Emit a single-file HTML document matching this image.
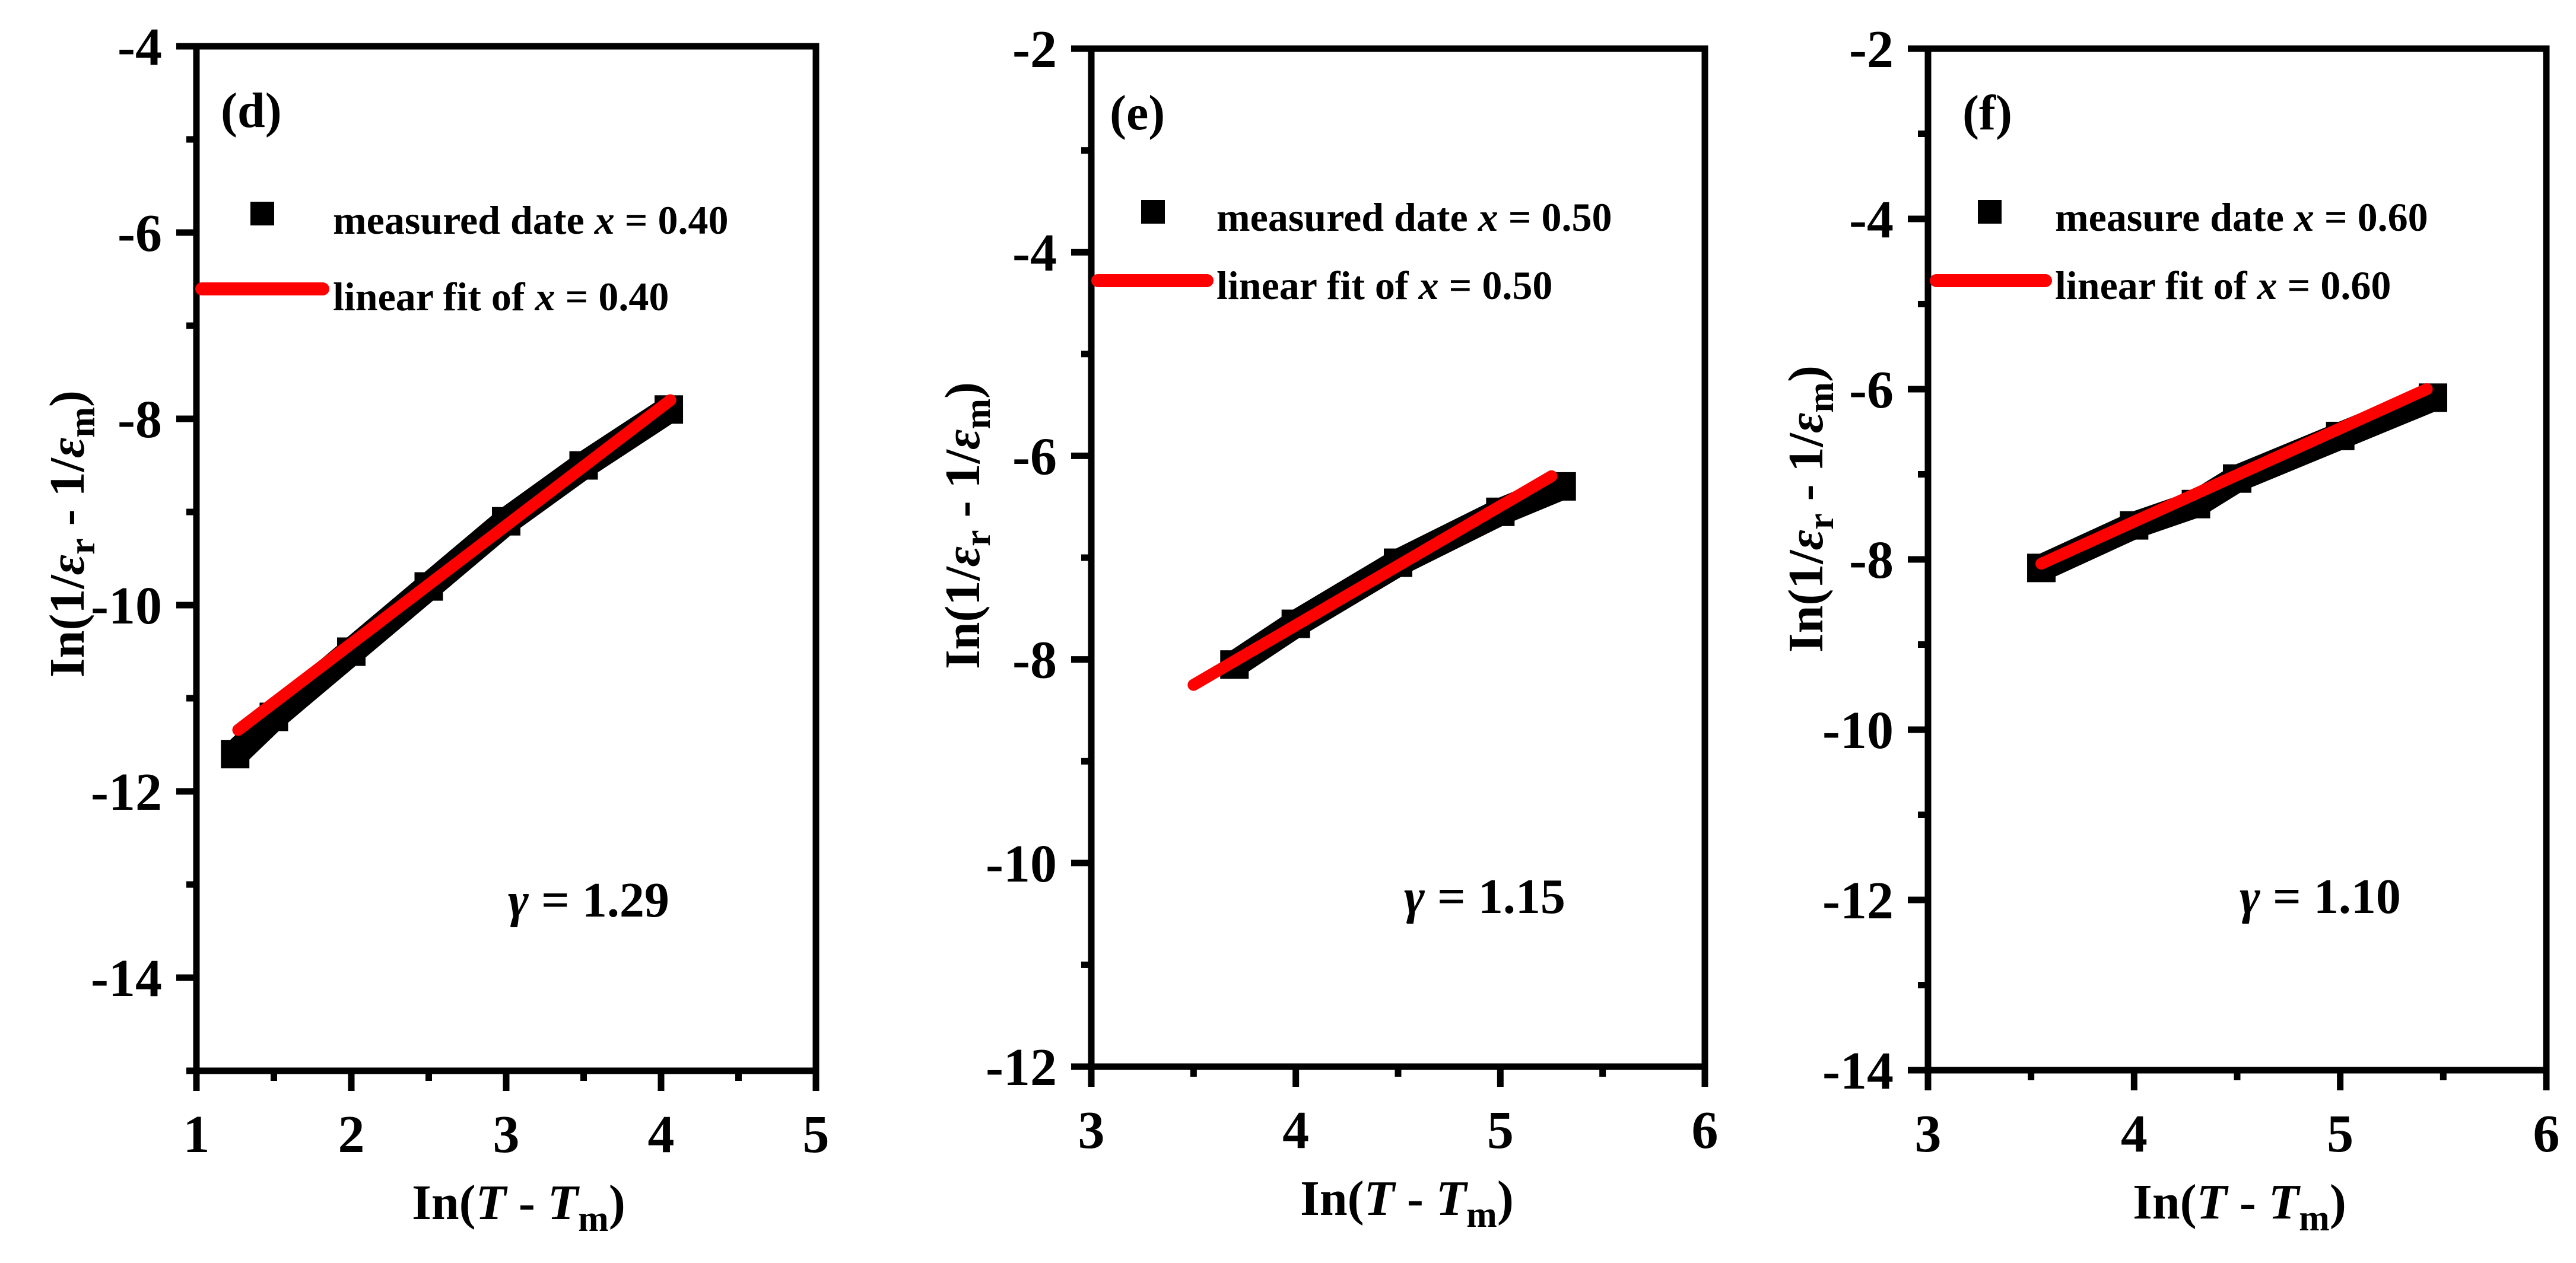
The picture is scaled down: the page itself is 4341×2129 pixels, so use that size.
<!DOCTYPE html>
<html><head><meta charset="utf-8"><style>
html,body{margin:0;padding:0;background:#fff;}
svg{display:block;}
text{font-family:"Liberation Serif",serif;font-weight:bold;fill:#000;}
</style></head><body>
<svg id="chart" width="4341" height="2129" viewBox="0 0 4341 2129" xmlns="http://www.w3.org/2000/svg"></svg>
<script>
// Panel d data
const dMeasX = [1.25, 1.5, 2.0, 2.5, 3.0, 3.5, 4.05];
const dMeasY = [-11.6, -11.2, -10.5, -9.8, -9.1, -8.5, -7.9];
const dFitX = [1.27, 4.06];
const dFitY = [-11.34, -7.8];
const dYTicks = [-4, -6, -8, -10, -12, -14];
const dXTicks = [1, 2, 3, 4, 5];
// Panel e data
const eMeasX = [3.7, 4.0, 4.5, 5.0, 5.3];
const eMeasY = [-8.05, -7.65, -7.05, -6.55, -6.3];
const eFitX = [3.5, 5.25];
const eFitY = [-8.25, -6.2];
const eYTicks = [-2, -4, -6, -8, -10, -12];
const eXTicks = [3, 4, 5, 6];
// Panel f data
const fMeasX = [3.55, 4.0, 4.3, 4.5, 5.0, 5.45];
const fMeasY = [-8.1, -7.6, -7.35, -7.05, -6.55, -6.1];
const fFitX = [3.55, 5.42];
const fFitY = [-8.05, -6.0];
const fYTicks = [-2, -4, -6, -8, -10, -12, -14];
const fXTicks = [3, 4, 5, 6];
const gammaValues = ['1.29', '1.15', '1.10'];

const NS = "http://www.w3.org/2000/svg";
const svg = document.getElementById('chart');
function mk(tag, attrs, parent, txt){
  const e = document.createElementNS(NS, tag);
  for (const k in attrs) e.setAttribute(k, attrs[k]);
  if (txt !== undefined) e.textContent = txt;
  (parent || svg).appendChild(e);
  return e;
}
function fmt(v){ return v < 0 ? '-' + Math.abs(v) : String(v); }

const panels = [
  {id:'d', L:331, R:1375, T:78, B:1805, x0:1, x1:5, y0:-15, y1:-4, mx:dMeasX, my:dMeasY, fx:dFitX, fy:dFitY, yt:dYTicks, xt:dXTicks,
   leg1:'measured date ', val:'0.40', sq:[442,360], lt:561, b1:394, rl:[340,544], ry:487, b2:523, lab:[372,214], gam:[856,1545], yl:[111,900], xl:874, g:0},
  {id:'e', L:1839, R:2873, T:82, B:1798, x0:3, x1:6, y0:-12, y1:-2, mx:eMeasX, my:eMeasY, fx:eFitX, fy:eFitY, yt:eYTicks, xt:eXTicks,
   leg1:'measured date ', val:'0.50', sq:[1943,357], lt:2050, b1:389, rl:[1850,2034], ry:473, b2:504, lab:[1870,218], gam:[2366,1539], yl:[1620,886], xl:2371, g:1},
  {id:'f', L:3249, R:4291, T:82, B:1804, x0:3, x1:6, y0:-14, y1:-2, mx:fMeasX, my:fMeasY, fx:fFitX, fy:fFitY, yt:fYTicks, xt:fXTicks,
   leg1:'measure date ', val:'0.60', sq:[3353,357], lt:3463, b1:389, rl:[3263,3447], ry:473, b2:504, lab:[3307,218], gam:[3774,1539], yl:[3041,858], xl:3774, g:2}
];

panels.forEach(p => {
  const g = mk('g', {});
  
  
  const sx = v => p.L + (v - p.x0) / (p.x1 - p.x0) * (p.R - p.L);
  const sy = v => p.B - (v - p.y0) / (p.y1 - p.y0) * (p.B - p.T);

  let pts = p.mx.map((x,i) => sx(x) + ',' + sy(p.my[i])).join(' ');
  const band = mk('polyline', {points:pts, fill:'none', stroke:'#000', 'stroke-width':46, 'stroke-linejoin':'round'}, g);
  
  
  p.mx.forEach((x,i) => {
    const s = mk('rect', {x:sx(x)-24, y:sy(p.my[i])-24, width:48, height:48, fill:'#000'}, g);
    
    
  });
  const fit = mk('line', {x1:sx(p.fx[0]), y1:sy(p.fy[0]), x2:sx(p.fx[1]), y2:sy(p.fy[1]), stroke:'#ff0000', 'stroke-width':20, 'stroke-linecap':'round'}, g);
  
  

  const fr = mk('rect', {x:p.L, y:p.T, width:p.R-p.L, height:p.B-p.T, fill:'none', stroke:'#000', 'stroke-width':11}, g);
  
  

  for (let v = p.y0; v <= p.y1 + 1e-9; v += 1) {
    const major = Math.abs(v % 2) === 0;
    mk('line', {x1:p.L - (major?34:17), y1:sy(v), x2:p.L, y2:sy(v), stroke:'#000', 'stroke-width':11}, g);
  }
  p.yt.forEach(v => {
    const t = mk('text', {x:p.L-58, y:sy(v)+31, 'font-size':90, 'text-anchor':'end'}, g, fmt(v));
    
    
  });
  for (let v = p.x0; v <= p.x1 + 1e-9; v += 0.5) {
    const major = Math.abs(v - Math.round(v)) < 1e-9;
    mk('line', {x1:sx(v), y1:p.B, x2:sx(v), y2:p.B + (major?34:17), stroke:'#000', 'stroke-width':11}, g);
  }
  p.xt.forEach(v => {
    const t = mk('text', {x:sx(v), y:p.B+137, 'font-size':90, 'text-anchor':'middle'}, g, fmt(v));
    
    
  });

  const lb = mk('text', {x:p.lab[0], y:p.lab[1], 'font-size':84}, g, '(' + p.id + ')');
  
  

  const sq = mk('rect', {x:p.sq[0]-20, y:p.sq[1]-20, width:40, height:40, fill:'#000'}, g);
  
  
  const t1 = mk('text', {x:p.lt, y:p.b1, 'font-size':68}, g);
  
  
  mk('tspan', {}, t1, p.leg1);
  mk('tspan', {'font-style':'italic'}, t1, 'x');
  mk('tspan', {}, t1, ' = ' + p.val);
  const rl = mk('line', {x1:p.rl[0], y1:p.ry, x2:p.rl[1], y2:p.ry, stroke:'#ff0000', 'stroke-width':22, 'stroke-linecap':'round'}, g);
  
  
  const t2 = mk('text', {x:p.lt, y:p.b2, 'font-size':68}, g);
  
  
  mk('tspan', {}, t2, 'linear fit of ');
  mk('tspan', {'font-style':'italic'}, t2, 'x');
  mk('tspan', {}, t2, ' = ' + p.val);

  const gm = mk('text', {x:p.gam[0], y:p.gam[1], 'font-size':84}, g);
  
  
  mk('tspan', {'font-style':'italic'}, gm, '\u03b3');
  mk('tspan', {}, gm, ' = ' + gammaValues[p.g]);

  const yt = mk('text', {x:0, y:0, 'font-size':84, 'text-anchor':'middle', transform:'translate(' + (p.yl[0]+30) + ',' + p.yl[1] + ') rotate(-90)'}, g);
  
  
  mk('tspan', {}, yt, 'In(1/');
  mk('tspan', {'font-style':'italic'}, yt, '\u03b5');
  mk('tspan', {'font-size':62, dy:18}, yt, 'r');
  mk('tspan', {dy:-18}, yt, ' - 1/');
  mk('tspan', {'font-style':'italic'}, yt, '\u03b5');
  mk('tspan', {'font-size':62, dy:18}, yt, 'm');
  mk('tspan', {dy:-18}, yt, ')');

  const xt = mk('text', {x:p.xl, y:p.B+250, 'font-size':84, 'text-anchor':'middle'}, g);
  
  
  mk('tspan', {}, xt, 'In(');
  mk('tspan', {'font-style':'italic'}, xt, 'T');
  mk('tspan', {}, xt, ' - ');
  mk('tspan', {'font-style':'italic'}, xt, 'T');
  mk('tspan', {'font-size':62, dy:20}, xt, 'm');
  mk('tspan', {dy:-20}, xt, ')');
});
</script>
</body></html>
